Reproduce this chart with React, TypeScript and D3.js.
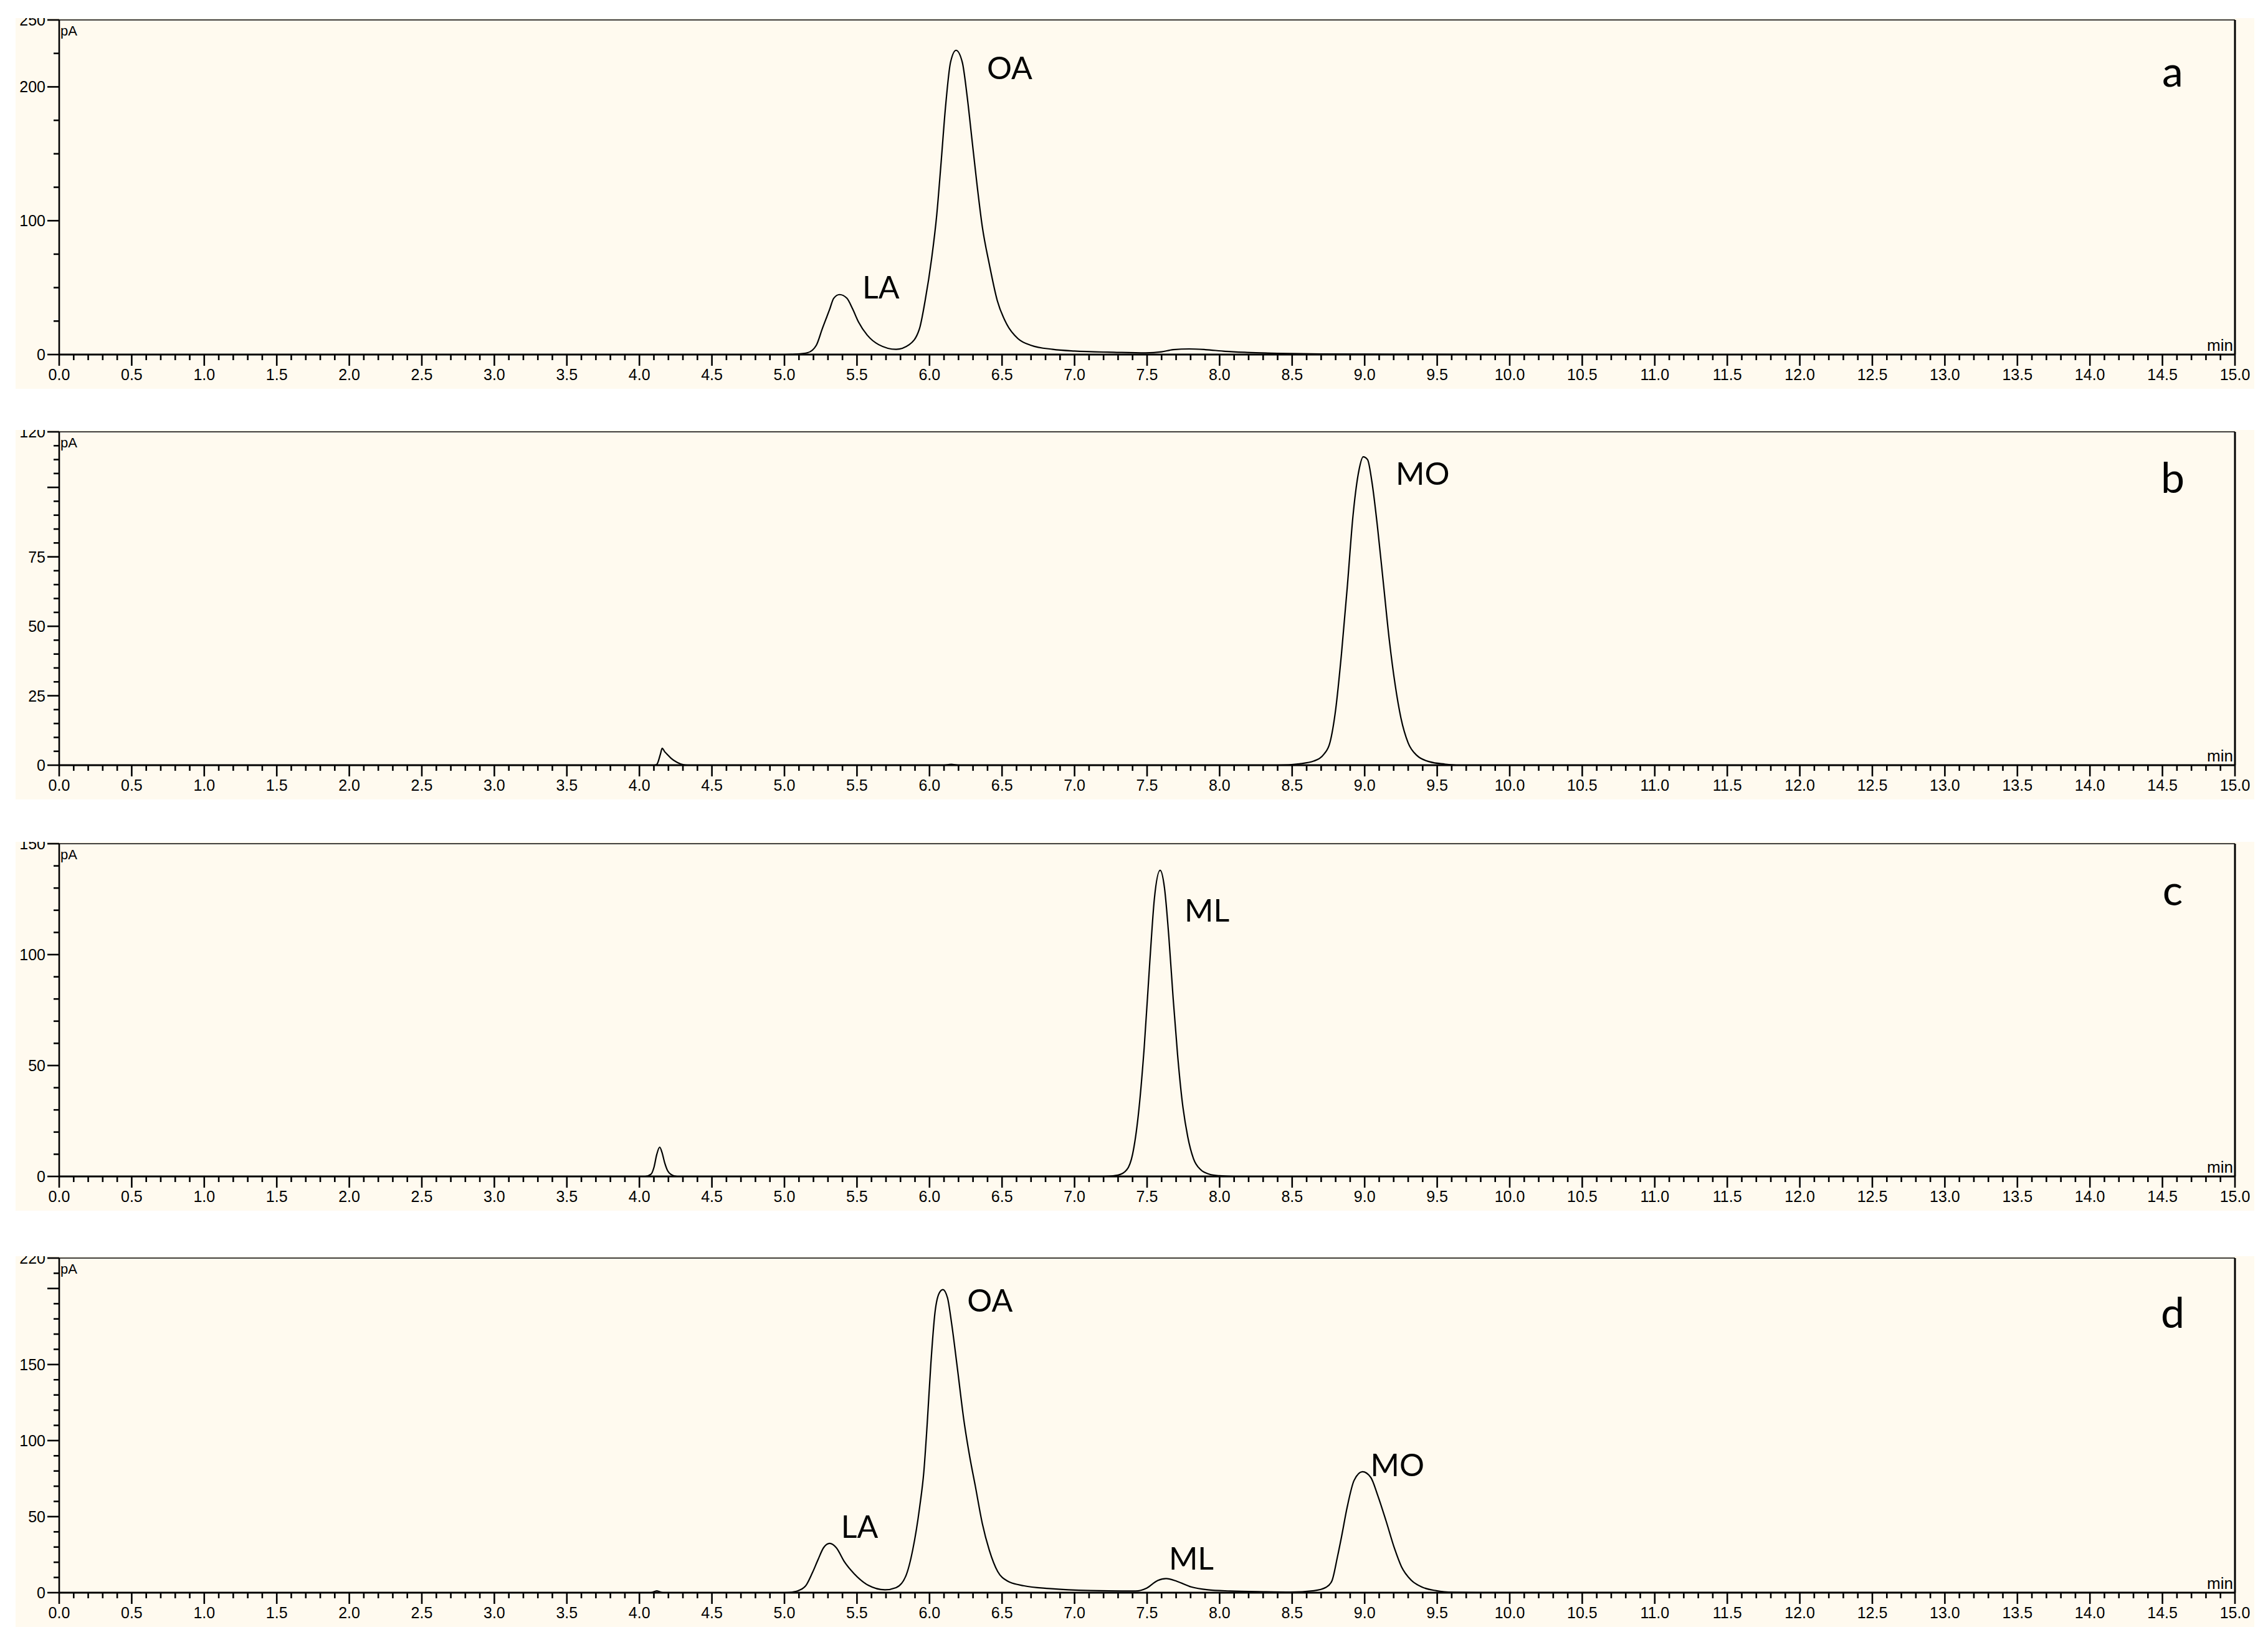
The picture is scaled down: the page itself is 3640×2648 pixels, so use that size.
import React from 'react';
import * as d3 from 'd3';

// ---------------- data ----------------
const timeA = [0, 5.0, 5.08, 5.16, 5.22, 5.26, 5.31, 5.34, 5.38, 5.43, 5.47, 5.51, 5.57, 5.65, 5.77, 5.86, 5.93, 5.97, 6.015, 6.05, 6.08, 6.11, 6.145, 6.183, 6.226, 6.259, 6.292, 6.325, 6.364, 6.413, 6.467, 6.533, 6.61, 6.7, 6.85, 7.0, 7.27, 7.49, 7.6, 7.68, 7.79, 7.9, 8.04, 8.19, 8.4, 8.7, 9.2, 10, 15];
const signalA = [0, 0, 0.3, 1.4, 7, 19, 33.3, 42.1, 44.8, 42.1, 34.1, 24.4, 14.6, 7.4, 3.9, 7.4, 19, 40.4, 72, 104.5, 143.6, 184.5, 218.4, 227.3, 218.4, 193.4, 161.4, 129.4, 95.5, 67.1, 40.4, 22.6, 11.9, 6.9, 3.9, 2.6, 1.7, 1.2, 2.0, 3.7, 4.2, 3.7, 2.4, 1.6, 0.9, 0.4, 0.2, 0, 0];

const timeB = [0, 4.1, 4.12, 4.145, 4.157, 4.175, 4.19, 4.218, 4.26, 4.3, 4.33, 6.1, 6.15, 6.2, 8.4, 8.55, 8.65, 8.72, 8.76, 8.8, 8.84, 8.88, 8.92, 8.96, 8.99, 9.02, 9.05, 9.09, 9.13, 9.17, 9.21, 9.25, 9.3, 9.36, 9.45, 9.55, 9.65, 15];
const signalB = [0, 0, 0.3, 4, 6.1, 4.8, 4.0, 2.5, 1.0, 0.2, 0, 0, 0.3, 0, 0, 0.5, 1.5, 4, 8, 20, 40, 64, 90, 106, 111, 110, 102, 85, 65, 45, 29, 17, 8, 3.5, 1.2, 0.4, 0, 0];

const timeC = [0, 4.04, 4.08, 4.1, 4.12, 4.14, 4.155, 4.175, 4.195, 4.22, 4.26, 7.2, 7.3, 7.36, 7.4, 7.44, 7.48, 7.52, 7.55, 7.59, 7.62, 7.65, 7.68, 7.71, 7.74, 7.78, 7.82, 7.87, 7.93, 8.0, 8.1, 15];
const signalC = [0, 0, 1, 4, 10, 13.2, 11, 6, 2.5, 0.8, 0, 0, 0.6, 3, 10, 28, 58, 98, 125, 138, 130, 108, 80, 55, 35, 18, 8, 3, 1, 0.3, 0, 0];

const timeD = [0, 4.08, 4.12, 4.16, 5.0, 5.05, 5.1, 5.15, 5.193, 5.232, 5.27, 5.312, 5.357, 5.414, 5.481, 5.577, 5.693, 5.769, 5.836, 5.884, 5.932, 5.961, 5.984, 6.009, 6.038, 6.067, 6.092, 6.124, 6.153, 6.191, 6.239, 6.278, 6.316, 6.364, 6.412, 6.47, 6.537, 6.652, 6.825, 7.113, 7.42, 7.497, 7.573, 7.631, 7.708, 7.804, 7.919, 8.072, 8.3, 8.49, 8.65, 8.735, 8.774, 8.812, 8.841, 8.879, 8.927, 8.985, 9.042, 9.09, 9.148, 9.206, 9.254, 9.321, 9.398, 9.494, 9.609, 9.8, 15];
const signalD = [0, 0, 1.2, 0, 0, 0.3, 1.5, 5, 13.2, 21.8, 29.6, 32.4, 29.6, 20.2, 12.4, 4.9, 1.9, 3.3, 10.8, 28, 56.2, 79.6, 110.9, 150, 184.4, 197, 199.3, 193.9, 176.6, 148.5, 112, 89, 70, 45.5, 28, 13.9, 7.7, 4.5, 2.7, 1.4, 1.1, 3.0, 8.0, 9.3, 7.4, 3.8, 1.9, 1.1, 0.6, 0.4, 1.3, 3.6, 7.7, 23.4, 37, 56, 73.8, 79.5, 75.8, 64, 47, 29, 17, 8.2, 3.6, 1.3, 0.3, 0.1, 0];

// y-axis ticks per panel
const yMaxes = [250, 120, 150, 220];
const yMajorA = [0, 100, 200, 250];
const yMajorB = [0, 25, 50, 75, 100, 120];
const yMajorC = [0, 50, 100, 150];
const yMajorD = [0, 50, 100, 150, 200, 220];
const yMinorSteps = [25, 5, 10, 10];
const yLabelsA = [0, 100, 200, 250];
const yLabelsB = [0, 25, 50, 75, 120];
const yLabelsC = [0, 50, 100, 150];
const yLabelsD = [0, 50, 100, 150, 220];

// peak annotations (time, signal of text baseline)
const peaksA = [{ name: 'LA', t: 5.537, v: 41.9 }, { name: 'OA', t: 6.396, v: 206 }];
const peaksB = [{ name: 'MO', t: 9.214, v: 101 }];
const peaksC = [{ name: 'ML', t: 7.758, v: 115 }];
const peaksD = [
  { name: 'LA', t: 5.39, v: 36 },
  { name: 'OA', t: 6.26, v: 184.8 },
  { name: 'ML', t: 7.65, v: 15.2 },
  { name: 'MO', t: 9.04, v: 76.6 },
];
const panelLetters = ['a', 'b', 'c', 'd'];

// ---------------- layout ----------------
const W = 3640;
const H = 2648;
const X_LEFT = 95;
const X_RIGHT = 3587;
const BG_LEFT = 25;
const BG_RIGHT = 3618;
const plotTops = [32, 693, 1354, 2019];
const plotBases = [569, 1228, 1888, 2556];
const letterOffsets = [107, 98, 99, 112];
const AXIS_FONT = '"Liberation Sans", Arial, sans-serif';
const LABEL_FONT = 'Lato, "Open Sans", sans-serif';

const panels = [
  { t: timeA, v: signalA, major: yMajorA, labels: yLabelsA, peaks: peaksA },
  { t: timeB, v: signalB, major: yMajorB, labels: yLabelsB, peaks: peaksB },
  { t: timeC, v: signalC, major: yMajorC, labels: yLabelsC, peaks: peaksC },
  { t: timeD, v: signalD, major: yMajorD, labels: yLabelsD, peaks: peaksD },
];

const xTickIdx = d3.range(0, 151);

function Panel({ idx }: { idx: number }) {
  const p = panels[idx];
  const top = plotTops[idx];
  const base = plotBases[idx];
  const yMax = yMaxes[idx];
  const x = d3.scaleLinear().domain([0, 15]).range([X_LEFT, X_RIGHT]);
  const y = d3.scaleLinear().domain([0, yMax]).range([base, top]);
  const line = d3
    .line<number>()
    .x((_d, i) => x(p.t[i]))
    .y((d) => y(d))
    .curve(d3.curveMonotoneX);
  const bgTop = top - 3;
  const bgBot = base + 55;
  const step = yMinorSteps[idx];
  const minor = d3
    .range(0, yMax + 1e-6, step)
    .filter((v) => !p.major.some((m) => Math.abs(m - v) < 1e-6));
  const clipId = `clip-${idx}`;
  return (
    <g>
      <defs>
        <clipPath id={clipId}>
          <rect x={BG_LEFT} y={bgTop} width={BG_RIGHT - BG_LEFT} height={bgBot - bgTop} />
        </clipPath>
      </defs>
      <g clipPath={`url(#${clipId})`}>
        <rect x={BG_LEFT} y={bgTop} width={BG_RIGHT - BG_LEFT} height={bgBot - bgTop} fill="#fffaef" />
        <path d={line(p.v) || ''} fill="none" stroke="#000" strokeWidth={2.2} strokeLinejoin="round" />
        {/* frame */}
        <line x1={X_LEFT} x2={X_RIGHT} y1={top} y2={top} stroke="#000" strokeWidth={1.3} />
        <line x1={X_RIGHT} x2={X_RIGHT} y1={top} y2={base} stroke="#000" strokeWidth={3} />
        <line x1={X_LEFT} x2={X_LEFT} y1={top} y2={base} stroke="#000" strokeWidth={2.6} />
        <line x1={X_LEFT} x2={X_RIGHT} y1={base} y2={base} stroke="#000" strokeWidth={3} />
        {/* y ticks */}
        {p.major.map((v) => (
          <line key={`ym${v}`} x1={X_LEFT - 19} x2={X_LEFT} y1={y(v)} y2={y(v)} stroke="#000" strokeWidth={2.6} />
        ))}
        {minor.map((v) => (
          <line key={`yn${v}`} x1={X_LEFT - 9} x2={X_LEFT} y1={y(v)} y2={y(v)} stroke="#000" strokeWidth={2.6} />
        ))}
        {p.labels.map((v) => (
          <text
            key={`yl${v}`}
            x={X_LEFT - 22}
            y={y(v)}
            dy="0.36em"
            textAnchor="end"
            fontFamily={AXIS_FONT}
            fontSize={25}
            fill="#000"
          >
            {v}
          </text>
        ))}
        {/* x ticks */}
        {xTickIdx.map((i) => {
          const t = i / 10;
          const isMajor = i % 5 === 0;
          return (
            <line
              key={`xt${i}`}
              x1={x(t)}
              x2={x(t)}
              y1={base}
              y2={base + (isMajor ? 18 : 9)}
              stroke="#000"
              strokeWidth={2.6}
            />
          );
        })}
        {xTickIdx
          .filter((i) => i % 5 === 0)
          .map((i) => (
            <text
              key={`xl${i}`}
              x={x(i / 10)}
              y={base + 41}
              textAnchor="middle"
              fontFamily={AXIS_FONT}
              fontSize={25}
              fill="#000"
            >
              {(i / 10).toFixed(1)}
            </text>
          ))}
        <text x={X_LEFT + 2} y={top + 25} fontFamily={AXIS_FONT} fontSize={22} fill="#000">
          pA
        </text>
        <text x={X_RIGHT - 3} y={base - 6} textAnchor="end" fontFamily={AXIS_FONT} fontSize={26} fill="#000">
          min
        </text>
        {/* peak labels */}
        {p.peaks.map((pk) => (
          <text
            key={pk.name}
            x={x(pk.t)}
            y={y(pk.v)}
            fontFamily={LABEL_FONT}
            fontSize={50}
            fill="#000"
          >
            {pk.name}
          </text>
        ))}
        <text
          x={3487}
          y={top + letterOffsets[idx]}
          textAnchor="middle"
          fontFamily={LABEL_FONT}
          fontSize={68}
          fill="#000"
        >
          {panelLetters[idx]}
        </text>
      </g>
    </g>
  );
}

export default function App() {
  return (
    <svg
      width={W}
      height={H}
      viewBox={`0 0 ${W} ${H}`}
      style={{ position: 'absolute', left: 0, top: 0, display: 'block' }}
    >
      <rect x={0} y={0} width={W} height={H} fill="#ffffff" />
      {panels.map((_p, i) => (
        <Panel key={i} idx={i} />
      ))}
    </svg>
  );
}
